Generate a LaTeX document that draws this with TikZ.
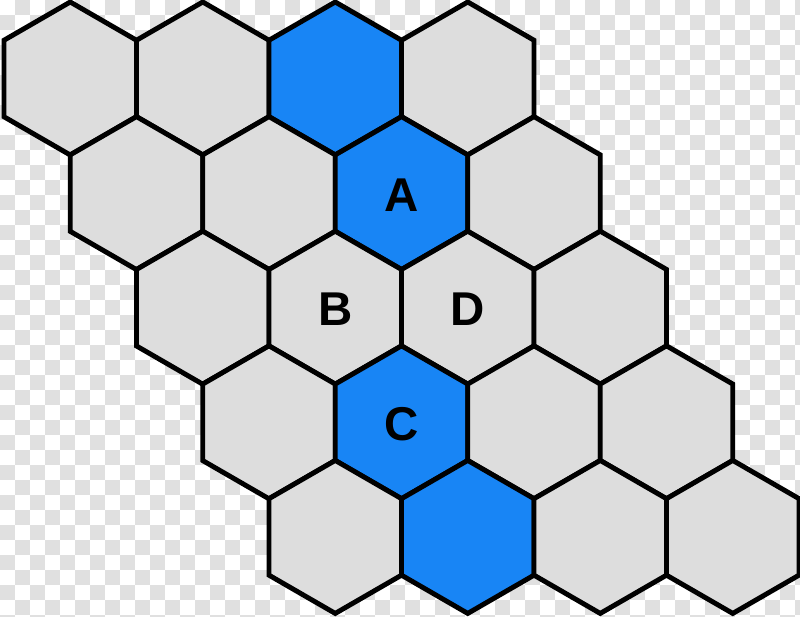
\documentclass[tikz,border=0pt]{standalone}
\usepackage{fontspec}
\setmainfont{Liberation Sans}
\definecolor{hexgray}{RGB}{221,221,221}
\definecolor{hexblue}{RGB}{24,133,245}
\definecolor{checker}{RGB}{224,224,224}
\begin{document}
\begin{tikzpicture}[x=0.02cm,y=-0.02cm,
  hexcell/.style={draw=black,line width=2.8pt,line join=miter},
  lbl/.style={font=\fontsize{27}{27}\selectfont\bfseries,inner sep=0pt}]
\useasboundingbox (0,0) rectangle (800,616);
\fill[white] (0,0) rectangle (800,616);
\foreach \i in {0,...,53}{
  \foreach \j in {0,...,41}{
    \pgfmathtruncatemacro\parity{mod(\i+\j,2)}
    \ifnum\parity=1 \fill[checker] (\i*15,\j*15) rectangle ++(15,15); \fi
  }
}
\foreach \r/\c/\col in {
  0/0/hexgray,0/1/hexgray,0/2/hexblue,0/3/hexgray,
  1/0/hexgray,1/1/hexgray,1/2/hexblue,1/3/hexgray,
  2/0/hexgray,2/1/hexgray,2/2/hexgray,2/3/hexgray,
  3/0/hexgray,3/1/hexblue,3/2/hexgray,3/3/hexgray,
  4/0/hexgray,4/1/hexblue,4/2/hexgray,4/3/hexgray}{
  \coordinate (h\r\c) at ({70.25+132.5*\c+66.25*\r},{78.5+114.6*\r});
  \draw[hexcell,fill=\col,shift={(h\r\c)}]
    (0,-76.5) -- (66.25,-38.25) -- (66.25,38.25) -- (0,76.5)
    -- (-66.25,38.25) -- (-66.25,-38.25) -- cycle;
}
\node[lbl] (A) at ([yshift=-1]h12) {A};
\node[lbl] (B) at ([yshift=-1]h21) {B};
\node[lbl] (D) at ([yshift=-1]h22) {D};
\node[lbl] (C) at ([yshift=-1]h31) {C};
\end{tikzpicture}
\end{document}
